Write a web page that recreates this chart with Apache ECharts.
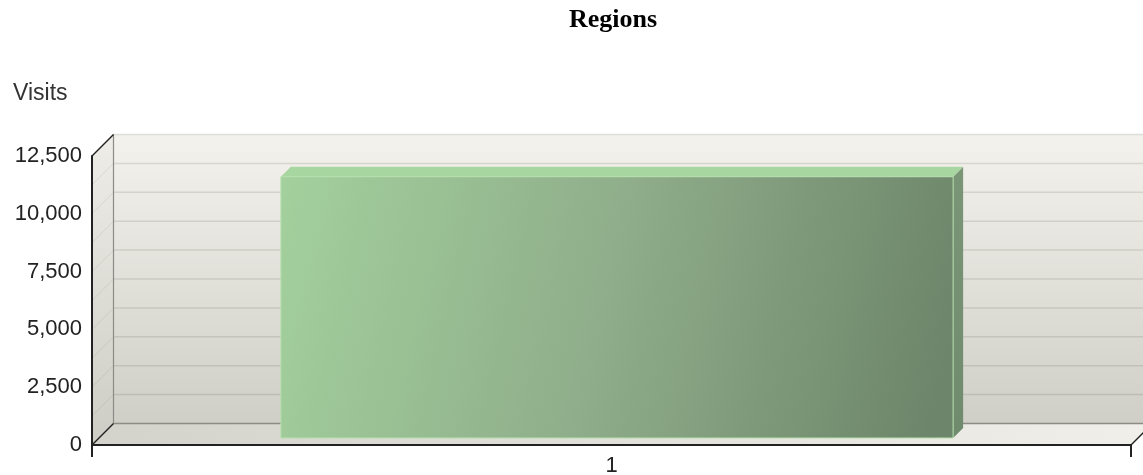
<!DOCTYPE html>
<html>
<head>
<meta charset="utf-8">
<title>Regions</title>
<script src="https://cdn.jsdelivr.net/npm/echarts@6/dist/echarts.min.js"></script>
<style>
  html, body { margin: 0; padding: 0; background: #fff; }
  #chart { width: 1143px; height: 475px; }
</style>
</head>
<body>
<div id="chart"></div>
<script>
// data
var categories = ['1'];
var visits = [11300];
var yTicks = [0, 2500, 5000, 7500, 10000, 12500];
var wallLines = [1250, 2500, 3750, 5000, 6250, 7500, 8750, 10000, 11250, 12500];

// 3d look
var WALL_DX = 21.5, WALL_DY = 21.5;
var BAR_FX = 5.5, BAR_FY = 7, BAR_DEPTH = 10, BAR_RATIO = 0.647;

var chart = echarts.init(document.getElementById('chart'));

//背景墙 + 地板
function renderWalls(params, api) {
    var cs = params.coordSys;
    var L = cs.x, R = cs.x + cs.width, T = cs.y, B = cs.y + cs.height;
    var kids = [];
    kids.push({
        type: 'rect',
        shape: { x: L + WALL_DX, y: T - WALL_DY, width: cs.width, height: cs.height },
        style: { fill: new echarts.graphic.LinearGradient(0, 0, 0, 1, [
            { offset: 0, color: '#f3f2ec' }, { offset: 1, color: '#cfcec7' }]) }
    });
    kids.push({
        type: 'polygon',
        shape: { points: [[L, T], [L + WALL_DX, T - WALL_DY], [L + WALL_DX, B - WALL_DY], [L, B]] },
        style: { fill: new echarts.graphic.LinearGradient(0, 0, 0, 1, [
            { offset: 0, color: '#eeede7' }, { offset: 1, color: '#cdccc5' }]) }
    });
    kids.push({
        type: 'polygon',
        shape: { points: [[L, B], [L + WALL_DX, B - WALL_DY], [R + WALL_DX, B - WALL_DY], [R, B]] },
        style: { fill: new echarts.graphic.LinearGradient(0, 0, 1, 0, [
            { offset: 0, color: '#d3d2cb' }, { offset: 1, color: '#f0efe9' }]) }
    });
    for (var i = 0; i < wallLines.length; i++) {
        var y = api.coord([0, wallLines[i]])[1];
        kids.push({
            type: 'line',
            shape: { x1: L + WALL_DX, y1: y - WALL_DY, x2: R + WALL_DX, y2: y - WALL_DY },
            style: { stroke: 'rgba(90,88,75,0.16)', lineWidth: 1.5 }
        });
        kids.push({
            type: 'line',
            shape: { x1: L, y1: y, x2: L + WALL_DX, y2: y - WALL_DY },
            style: { stroke: 'rgba(90,88,75,0.12)', lineWidth: 1 }
        });
    }
    // edges
    kids.push({ type: 'line', shape: { x1: L + WALL_DX, y1: B - WALL_DY, x2: R + WALL_DX, y2: B - WALL_DY },
        style: { stroke: '#8c8b85', lineWidth: 1.5 } });
    kids.push({ type: 'line', shape: { x1: L + WALL_DX, y1: T - WALL_DY, x2: L + WALL_DX, y2: B - WALL_DY },
        style: { stroke: '#8c8b85', lineWidth: 1.2 } });
    kids.push({ type: 'line', shape: { x1: L, y1: T, x2: L + WALL_DX, y2: T - WALL_DY },
        style: { stroke: '#222', lineWidth: 1.5 } });
    kids.push({ type: 'line', shape: { x1: L, y1: B, x2: L + WALL_DX, y2: B - WALL_DY },
        style: { stroke: '#222', lineWidth: 1.5 } });
    kids.push({ type: 'line', shape: { x1: R, y1: B, x2: R + WALL_DX, y2: B - WALL_DY },
        style: { stroke: '#222', lineWidth: 1.5 } });
    return { type: 'group', children: kids };
}

// 3d柱子
function renderBar(params, api) {
    var x = api.value(0), v = api.value(1);
    var base = api.coord([x, 0]);
    var top = api.coord([x, v]);
    var bw = api.size([1, 0])[0] * BAR_RATIO;
    var cx = base[0] + BAR_FX;
    var L = cx - bw / 2, R = cx + bw / 2;
    var B = base[1] - BAR_FY, T = top[1] - BAR_FY;
    var d = BAR_DEPTH;
    return {
        type: 'group',
        children: [{
            type: 'polygon',
            shape: { points: [[R, T], [R + d, T - d], [R + d, B - d], [R, B]] },
            style: { fill: new echarts.graphic.LinearGradient(0, 0, 0, 1, [
                { offset: 0, color: '#7a9677' }, { offset: 1, color: '#6f8a6d' }]) }
        }, {
            type: 'polygon',
            shape: { points: [[L, T], [R, T], [R + d, T - d], [L + d, T - d]] },
            style: { fill: '#a8d6a1' }
        }, {
            type: 'rect',
            shape: { x: L, y: T, width: bw, height: B - T },
            style: {
                fill: new echarts.graphic.LinearGradient(0, 0, 1, 0.6, [
                    { offset: 0, color: '#a3d09d' }, { offset: 0.5, color: '#8fad8a' }, { offset: 1, color: '#6d856a' }]),
                stroke: '#b6e1ae', lineWidth: 1
            }
        }]
    };
}

var option = {
    animation: false,
    title: [{
        text: 'Regions', left: 569, top: 7, padding: 0,
        textStyle: { fontFamily: 'Liberation Serif', fontWeight: 'bold', fontSize: 26, color: '#000' }
    }, {
        text: 'Visits', left: 13, top: 82, padding: 0,
        textStyle: { fontFamily: 'Liberation Sans', fontWeight: 'normal', fontSize: 23, color: '#333' }
    }],
    grid: { left: 92, right: 12, top: 156, bottom: 30, containLabel: false, outerBoundsMode: 'none' },
    xAxis: {
        type: 'category', data: categories, z: 10,
        axisLine: { lineStyle: { color: '#222', width: 2 } },
        axisTick: { show: true, length: 12, lineStyle: { color: '#222', width: 2 } },
        axisLabel: { fontFamily: 'Liberation Sans', fontSize: 22, color: '#222', margin: 10 },
        splitLine: { show: false }
    },
    yAxis: {
        type: 'value', min: 0, max: 12500, interval: 2500, z: 10,
        axisLine: { show: true, lineStyle: { color: '#222', width: 2 } },
        axisTick: { show: false },
        splitLine: { show: false },
        axisLabel: {
            fontFamily: 'Liberation Sans', fontSize: 22, color: '#222', margin: 10,
            formatter: function (v) { return yTicks.indexOf(v) >= 0 ? echarts.format.addCommas(v) : ''; }
        }
    },
    series: [{
        type: 'custom', name: 'walls', silent: true, z: 1,
        renderItem: renderWalls,
        data: [[0, 0]]
    }, {
        type: 'custom', name: 'Visits', z: 3,
        renderItem: renderBar,
        data: categories.map(function (c, i) { return [i, visits[i]]; })
    }]
};
chart.setOption(option);
</script>
</body>
</html>
